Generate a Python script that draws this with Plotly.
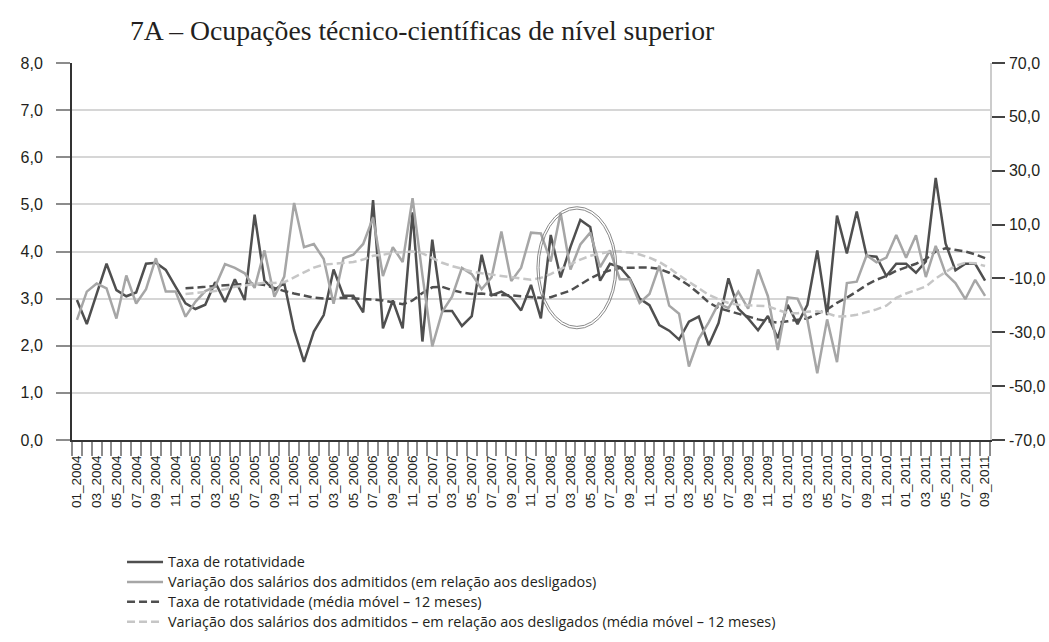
import plotly.graph_objects as go

# ---- categories (monthly, 01_2004 .. 09_2011) ----
months = [f"{m:02d}_{y}" for y in range(2004, 2012) for m in range(1, 13)][:93]

# ---- Taxa de rotatividade (left axis, %) ----
taxa = [2.97, 2.46, 3.10, 3.74, 3.18, 3.05, 3.13, 3.74, 3.76, 3.61,
        3.25, 2.90, 2.78, 2.87, 3.35, 2.93, 3.41, 2.97, 4.78, 3.38,
        3.18, 3.33, 2.33, 1.66, 2.30, 2.65, 3.62, 3.06, 3.06, 2.71,
        5.09, 2.37, 2.96, 2.37, 4.83, 2.09, 4.25, 2.74, 2.74, 2.42,
        2.63, 3.93, 3.07, 3.15, 3.02, 2.75, 3.29, 2.58, 4.35, 3.45,
        4.10, 4.67, 4.52, 3.38, 3.74, 3.67, 3.43, 3.00, 2.86, 2.44,
        2.32, 2.13, 2.51, 2.62, 2.01, 2.48, 3.43, 2.79, 2.58, 2.33,
        2.63, 2.16, 2.87, 2.46, 2.87, 4.02, 2.65, 4.76, 3.96, 4.85,
        3.91, 3.89, 3.48, 3.74, 3.74, 3.55, 3.79, 5.56, 4.17, 3.60,
        3.74, 3.74, 3.38]

# ---- Variação dos salários dos admitidos (right axis, %) ----
salarios = [-25.4, -14.9, -11.9, -13.7, -24.9, -8.9, -19.3, -14.0, -2.5, -14.9,
            -14.9, -24.2, -18.7, -14.7, -13.1, -4.7, -6.1, -8.1, -13.5, 0.4,
            -16.8, -9.3, 18.0, 1.6, 2.8, -2.8, -19.4, -2.5, -1.2, 2.8,
            12.6, -9.1, 1.6, -3.9, 19.8, -8.8, -35.2, -22.4, -16.8, -6.1,
            -8.4, -14.0, -9.6, 7.4, -11.0, -6.0, 7.0, 6.7, -3.7, 14.4,
            -6.7, 2.6, 7.0, -5.8, 0.4, -10.3, -10.3, -19.1, -15.8, -5.3,
            -20.1, -23.1, -42.7, -32.4, -26.3, -19.3, -21.0, -14.9, -21.2, -6.7,
            -16.6, -36.6, -17.0, -17.5, -25.4, -45.2, -25.2, -41.1, -11.7, -11.2,
            -1.4, -4.0, -2.3, 6.1, -2.3, 6.0, -9.5, 2.1, -8.2, -11.7,
            -17.7, -10.5, -16.5]

# ---- 12-month moving averages (start at 12_2004) ----
taxa_mm = [3.22, 3.23, 3.25, 3.27, 3.28, 3.30, 3.31, 3.32, 3.29, 3.22,
           3.16, 3.11, 3.06, 3.02, 3.00, 3.00, 3.02, 3.01, 2.99, 2.98,
           2.96, 2.92, 2.88, 2.96, 3.12, 3.24, 3.25, 3.18, 3.13, 3.10,
           3.11, 3.08, 3.08, 3.07, 3.05, 3.04, 3.02, 3.03, 3.10, 3.17,
           3.30, 3.43, 3.53, 3.60, 3.65, 3.66, 3.66, 3.66, 3.63, 3.55,
           3.42, 3.28, 3.11, 2.92, 2.80, 2.74, 2.68, 2.61, 2.56, 2.52,
           2.49, 2.52, 2.55, 2.58, 2.68, 2.77, 2.91, 3.02, 3.15, 3.29,
           3.40, 3.48, 3.59, 3.67, 3.74, 3.84, 4.00, 4.07, 4.04, 4.00,
           3.94, 3.86]

salarios_mm = [-15.8, -15.4, -15.1, -14.7, -14.0, -13.1, -12.6, -12.1, -11.6, -11.7,
               -11.4, -9.6, -7.7, -6.0, -4.9, -4.6, -4.4, -3.9, -3.0, -1.6,
               -1.2, -0.5, -0.2, 0.0, -0.7, -2.6, -4.2, -5.4, -6.5, -7.4,
               -8.1, -8.6, -9.1, -9.6, -10.0, -10.5, -9.8, -8.4, -6.5, -4.6,
               -3.0, -1.6, -0.7, 0.0, 0.0, -0.4, -1.1, -2.3, -3.9, -6.1,
               -8.8, -11.2, -13.7, -16.1, -17.7, -19.1, -19.8, -20.0, -20.1, -20.3,
               -21.7, -22.9, -22.9, -22.4, -22.2, -22.9, -24.2, -24.0, -23.5, -22.4,
               -21.5, -20.1, -17.2, -15.6, -14.4, -13.0, -10.0, -7.7, -5.3, -4.2,
               -4.4, -5.4]

legend_names = [
    "Taxa de rotatividade",
    "Variação dos salários dos admitidos (em relação aos desligados)",
    "Taxa de rotatividade (média móvel – 12 meses)",
    "Variação dos salários dos admitidos – em relação aos desligados (média móvel – 12 meses)",
]

left_ticks = [0, 1, 2, 3, 4, 5, 6, 7, 8]
right_ticks = [-70, -50, -30, -10, 10, 30, 50, 70]

def fmt(v):
    return f"{v:.1f}".replace(".", ",")

def leg(name):
    return f'<span style="font-size:14.4px">{name}</span>'

mm_months = months[11:]

DARK = "#4f4f4f"
LIGHT = "#a6a6a6"
LIGHT_MM = "#c6c6c6"
FONT = "Liberation Sans"
LEG_FONT = "Open Sans"
TXT = "#231f20"

W, H = 1049, 642

fig = go.Figure()
fig.add_trace(go.Scatter(x=months, y=taxa, mode="lines", name=leg(legend_names[0]),
                         line=dict(color=DARK, width=2.5), legendrank=1))
fig.add_trace(go.Scatter(x=months, y=salarios, mode="lines", yaxis="y2",
                         name=leg(legend_names[1]),
                         line=dict(color=LIGHT, width=2.5), legendrank=2))
fig.add_trace(go.Scatter(x=mm_months, y=taxa_mm, mode="lines",
                         name=leg(legend_names[2]),
                         line=dict(color=DARK, width=2.5, dash="8px,4px"), legendrank=3))
fig.add_trace(go.Scatter(x=mm_months, y=salarios_mm, mode="lines", yaxis="y2",
                         name=leg(legend_names[3]),
                         line=dict(color=LIGHT_MM, width=2.5, dash="8px,4px"), legendrank=4))

# highlight ellipse (double ring) around 01_2008 – 07_2008
for dx, dy in [(0, 0), (0.22, 0.05)]:
    fig.add_shape(type="circle", xref="x", yref="y",
                  x0=46.6 + dx, x1=54.7 - dx, y0=2.36 + dy, y1=4.95 - dy,
                  line=dict(color="#8a8a8a", width=1))

fig.update_layout(
    width=W, height=H,
    margin=dict(l=72, r=59, t=63, b=202, pad=0, autoexpand=False),
    paper_bgcolor="white", plot_bgcolor="white",
    font=dict(family=FONT, size=14, color=TXT),
    title=dict(text="7A – Ocupações técnico-científicas de nível superior",
               font=dict(family="Liberation Serif", size=27.7, color=TXT),
               xref="container", x=130 / W, xanchor="left",
               yref="container", y=1 - 30 / H, yanchor="middle"),
    showlegend=True,
    legend=dict(orientation="v", x=0.0545, xanchor="left", y=-0.284, yanchor="top",
                font=dict(family=LEG_FONT, size=13, color=TXT),
                bgcolor="rgba(0,0,0,0)", tracegroupgap=0, itemwidth=36),
    xaxis=dict(type="category", tickmode="array", tickvals=months,
               ticktext=[m if i % 2 == 0 else "" for i, m in enumerate(months)],
               tickson="boundaries", ticks="outside", ticklen=14, tickwidth=1.5,
               tickcolor="#8c8c8c", tickangle=-90, tickfont=dict(size=13.5, color=TXT),
               ticklabelstandoff=8,
               showline=True, linecolor="#333333", linewidth=2,
               showgrid=False, zeroline=False, range=[-0.5, 92.5]),
    yaxis=dict(range=[0, 8], tickmode="array", tickvals=left_ticks,
               ticktext=[fmt(v) for v in left_ticks],
               ticks="outside", ticklen=14, tickwidth=1.5, tickcolor="#8c8c8c",
               ticklabelstandoff=10,
               tickfont=dict(size=16, color=TXT),
               showline=True, linecolor="#333333", linewidth=2,
               showgrid=True, gridcolor="#d6d6d6", gridwidth=1.5, zeroline=False),
    yaxis2=dict(range=[-70, 70], overlaying="y", side="right", tickmode="array",
                tickvals=right_ticks, ticktext=[fmt(v) for v in right_ticks],
                ticks="outside", ticklen=13, tickwidth=1.5, tickcolor="#444444",
                ticklabelstandoff=1,
                tickfont=dict(size=16, color=TXT),
                showline=True, linecolor="#cccccc", linewidth=1.5,
                showgrid=False, zeroline=False),
)

fig.write_html("out.html",
               config={"displayModeBar": False},
               post_script="document.body.style.margin='0';"
                           "document.body.style.overflow='hidden';")
